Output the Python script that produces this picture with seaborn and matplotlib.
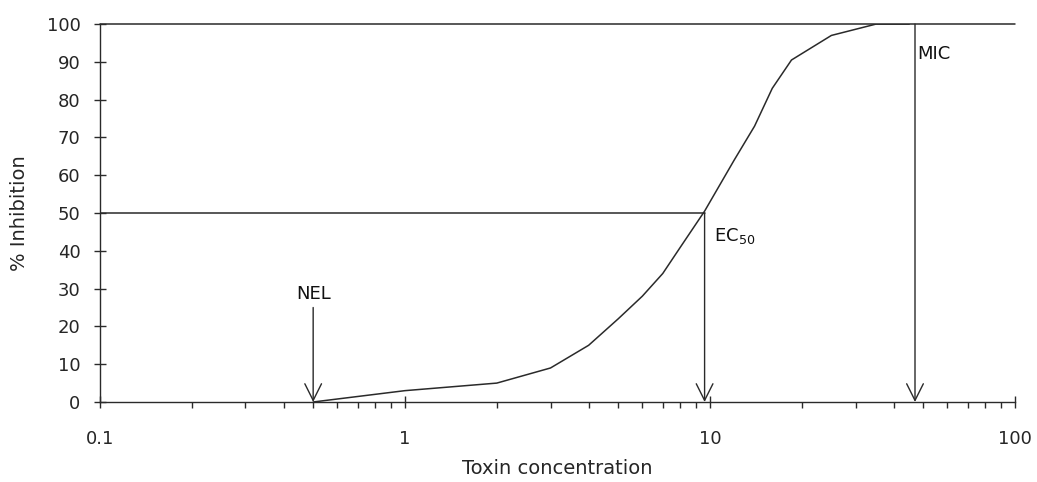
import matplotlib
matplotlib.use("Agg")
import matplotlib.pyplot as plt
import seaborn as sns
import numpy as np
import pandas as pd
from matplotlib.ticker import LogLocator, FixedLocator, NullFormatter, FixedFormatter

# ---- data ----
concentration = [0.5, 1, 2, 3, 4, 5, 6, 7, 8, 9.6, 12, 14, 16, 18.5, 25, 35, 45]
inhibition    = [0, 3, 5, 9, 15, 22, 28, 34, 41, 50.5, 64, 73, 83, 90.5, 97, 100, 100]

nel_x, nel_top = 0.5, 25
ec50_x, ec50_y = 9.6, 50
mic_x, mic_y = 47, 100

x_ticks = [0.1, 1, 10, 100]
x_tick_labels = ["0.1", "1", "10", "100"]
y_ticks = [0, 10, 20, 30, 40, 50, 60, 70, 80, 90, 100]

df = pd.DataFrame({"conc": concentration, "inh": inhibition})

sns.set_style("white")
plt.rcParams['font.family'] = ['DejaVu Sans']

line_col = "#2a2a2a"
fig = plt.figure(figsize=(10.37, 4.82), dpi=100)
ax = fig.add_axes([0.0964, 0.166, 0.9788 - 0.0964, 0.950 - 0.166])

sns.lineplot(data=df, x="conc", y="inh", ax=ax, color=line_col, lw=1.1, sort=False)

ax.set_xscale("log")
ax.set_xlim(0.1, 100)
ax.set_ylim(0, 100)

# reference lines
ax.axhline(mic_y, color=line_col, lw=1.1, clip_on=False)
ax.plot([0.1, ec50_x], [ec50_y, ec50_y], color=line_col, lw=1.1)

arrow = dict(arrowstyle="->,head_length=1.2,head_width=0.6", lw=1.0, color=line_col,
             shrinkA=0, shrinkB=0, mutation_scale=10)
ax.annotate("", xy=(nel_x, 0), xytext=(nel_x, nel_top), arrowprops=arrow)
ax.annotate("", xy=(ec50_x, 0), xytext=(ec50_x, ec50_y), arrowprops=arrow)
ax.annotate("", xy=(mic_x, 0), xytext=(mic_x, mic_y), arrowprops=arrow)

ax.text(nel_x, 28.5, "NEL", ha="center", va="center", fontsize=13, color="#111")
ax.text(ec50_x * 1.07, 44, "EC$_{50}$", ha="left", va="center", fontsize=13, color="#111")
ax.text(mic_x * 1.02, 92, "MIC", ha="left", va="center", fontsize=13, color="#111")

# spines
for s in ["top", "right"]:
    ax.spines[s].set_visible(False)
for s in ["left", "bottom"]:
    ax.spines[s].set_color(line_col)
    ax.spines[s].set_linewidth(1.0)

ax.xaxis.set_major_locator(FixedLocator(x_ticks))
ax.xaxis.set_major_formatter(FixedFormatter(x_tick_labels))
ax.xaxis.set_minor_locator(LogLocator(base=10, subs=np.arange(2, 10)))
ax.xaxis.set_minor_formatter(NullFormatter())
ax.set_yticks(y_ticks)

ax.tick_params(axis="x", which="major", direction="inout", length=8, width=1.0,
               color=line_col, pad=16, labelsize=13, bottom=True)
ax.tick_params(axis="x", which="minor", direction="out", length=4, width=1.0,
               color=line_col, bottom=True)
ax.tick_params(axis="y", which="major", direction="inout", length=8, width=1.0,
               color=line_col, pad=10, labelsize=13, left=True)

ax.set_xlabel("Toxin concentration", fontsize=14, labelpad=8)
ax.set_ylabel("% Inhibition", fontsize=14, labelpad=13)

fig.savefig("out.png", dpi=100)
